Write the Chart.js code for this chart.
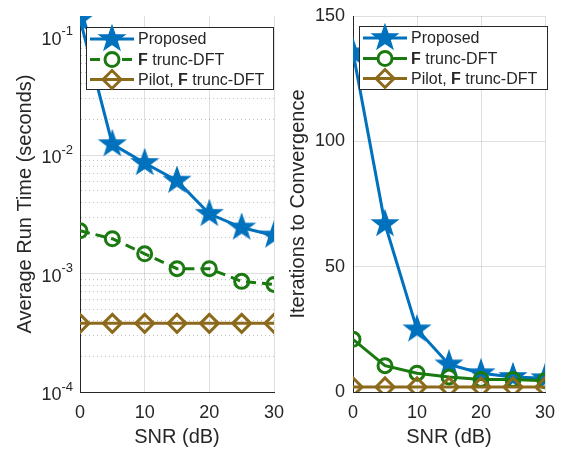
<!DOCTYPE html>
<html>
<head>
<meta charset="utf-8">
<script src="https://cdn.jsdelivr.net/npm/chart.js@4/dist/chart.umd.min.js"></script>
<style>
  html, body { margin: 0; padding: 0; background: #fff; }
  #wrap { position: relative; width: 561px; height: 451px; }
  #left { position: absolute; left: 0; top: 0; }
  #right { position: absolute; left: 280px; top: 0; }
</style>
</head>
<body>
<div id="wrap">
  <canvas id="left" width="290" height="451"></canvas>
  <canvas id="right" width="281" height="451"></canvas>
</div>
<script>
// data
const snr = [0, 5, 10, 15, 20, 25, 30];
const runProposed = [0.141, 0.0124, 0.0086, 0.0061, 0.0032, 0.00245, 0.0021];
const runTrunc = [0.0023, 0.00197, 0.00147, 0.0011, 0.0011, 0.00086, 0.00081];
const runPilot = [0.00038, 0.00038, 0.00038, 0.00038, 0.00038, 0.00038, 0.00038];
const iterProposed = [135.5, 67, 25, 11, 7.5, 6, 5.5];
const iterTrunc = [21, 10.5, 7.5, 6, 5, 5, 4.5];
const iterPilot = [2, 2, 2, 2, 2, 2, 2];

const snrTicks = [0, 10, 20, 30];
const runTicks = [1e-4, 1e-3, 1e-2, 1e-1];
const runExp = ['-4', '-3', '-2', '-1'];
const iterTicks = [0, 50, 100, 150];
const legendLabels = ['Proposed', 'F trunc-DFT', 'Pilot, F trunc-DFT'];

const BLUE = '#0072BD', GREEN = '#1A7A10', BROWN = '#8C6A1C';
const TXT = '#262626';
const FONT = '"Liberation Sans", Arial, Helvetica, sans-serif';

// filled pentagram marker
function makeStar(r, color) {
    const c = document.createElement('canvas');
    const s = Math.ceil(r * 2 + 4);
    c.width = s; c.height = s;
    const g = c.getContext('2d');
    const cx = s / 2, cy = s / 2;
    g.beginPath();
    for (let i = 0; i < 10; i++) {
        const rad = i % 2 === 0 ? r : r * 0.4;
        const a = -Math.PI / 2 + i * Math.PI / 5;
        const x = cx + rad * Math.cos(a), y = cy + rad * Math.sin(a);
        if (i === 0) g.moveTo(x, y); else g.lineTo(x, y);
    }
    g.closePath();
    g.fillStyle = color;
    g.fill();
    g.lineWidth = 1.5;
    g.strokeStyle = color;
    g.stroke();
    return c;
}
const starImg = makeStar(13, BLUE);

function pts(ys) {
    return snr.map((x, i) => ({ x: x, y: ys[i] }));
}

function makeDatasets(a, b, c, dashTrunc) {
    return [
        { data: pts(a), borderColor: BLUE, borderWidth: 3, pointStyle: starImg, pointRadius: 13, order: 2 },
        { data: pts(b), borderColor: GREEN, borderWidth: 3, borderDash: dashTrunc ? [10, 6] : [],
          pointStyle: 'circle', pointRadius: 7, pointBorderWidth: 3, pointBorderColor: GREEN,
          pointBackgroundColor: 'rgba(0,0,0,0)', order: 1 },
        { data: pts(c), borderColor: BROWN, borderWidth: 3, pointStyle: 'rectRot', pointRadius: 9,
          pointBorderWidth: 3, pointBorderColor: BROWN, pointBackgroundColor: 'rgba(0,0,0,0)', order: 0 }
    ];
}

// legend drawn inside the plot, like the MATLAB one
function legendPlugin(box, dashTrunc) {
    return {
        id: 'insideLegend',
        afterDatasetsDraw(chart) {
            const ctx = chart.ctx;
            ctx.save();
            ctx.fillStyle = '#fff';
            ctx.fillRect(box.x, box.y, box.w, box.h);
            ctx.strokeStyle = TXT;
            ctx.lineWidth = 1;
            ctx.strokeRect(box.x + 0.5, box.y + 0.5, box.w, box.h);
            const colors = [BLUE, GREEN, BROWN];
            const rows = [box.y + 12, box.y + 32.5, box.y + 52.5];
            const x0 = box.x + 4, x1 = box.x + 48, xm = (x0 + x1) / 2;
            rows.forEach((yy, i) => {
                ctx.strokeStyle = colors[i];
                ctx.lineWidth = 3;
                ctx.setLineDash(i === 1 && dashTrunc ? [10, 6] : []);
                ctx.beginPath();
                ctx.moveTo(x0, yy); ctx.lineTo(x1, yy);
                ctx.stroke();
                ctx.setLineDash([]);
                if (i === 0) {
                    ctx.drawImage(starImg, xm - starImg.width / 2, yy - starImg.height / 2);
                } else if (i === 1) {
                    ctx.beginPath();
                    ctx.fillStyle = '#fff';
                    ctx.arc(xm, yy, 7, 0, Math.PI * 2);
                    ctx.fill();
                    ctx.stroke();
                } else {
                    ctx.beginPath();
                    ctx.moveTo(xm, yy - 9); ctx.lineTo(xm + 9, yy); ctx.lineTo(xm, yy + 9); ctx.lineTo(xm - 9, yy);
                    ctx.closePath();
                    ctx.stroke();
                }
                // label, with a bold F
                ctx.fillStyle = TXT;
                ctx.textBaseline = 'middle';
                ctx.textAlign = 'left';
                let tx = x1 + 4;
                const label = legendLabels[i];
                const fIdx = label.indexOf('F ');
                if (fIdx < 0) {
                    ctx.font = '16px ' + FONT;
                    ctx.fillText(label, tx, yy + 1);
                } else {
                    const pre = label.slice(0, fIdx), post = label.slice(fIdx + 1);
                    ctx.font = '16px ' + FONT;
                    ctx.fillText(pre, tx, yy + 1);
                    tx += ctx.measureText(pre).width;
                    ctx.font = 'bold 16px ' + FONT;
                    ctx.fillText('F', tx, yy + 1);
                    tx += ctx.measureText('F').width;
                    ctx.font = '16px ' + FONT;
                    ctx.fillText(post, tx, yy + 1);
                }
            });
            ctx.restore();
        }
    };
}

function titlesPlugin(yTitle, yTitleX) {
    return {
        id: 'axisTitles',
        afterDraw(chart) {
            const ctx = chart.ctx, a = chart.chartArea;
            ctx.save();
            ctx.fillStyle = TXT;
            ctx.font = '20px ' + FONT;
            ctx.textAlign = 'center';
            ctx.textBaseline = 'middle';
            ctx.fillText('SNR (dB)', (a.left + a.right) / 2, 437);
            ctx.translate(yTitleX, (a.top + a.bottom) / 2);
            ctx.rotate(-Math.PI / 2);
            ctx.fillText(yTitle, 0, 0);
            ctx.restore();
        }
    };
}

// 10^n labels for the log axis
const logLabels = {
    id: 'logLabels',
    afterDraw(chart) {
        const ctx = chart.ctx, y = chart.scales.y;
        const xr = chart.chartArea.left - 7;
        ctx.save();
        ctx.fillStyle = TXT;
        ctx.textBaseline = 'middle';
        ctx.textAlign = 'right';
        runTicks.forEach((v, i) => {
            const py = y.getPixelForValue(v);
            ctx.font = '13px ' + FONT;
            const ew = ctx.measureText(runExp[i]).width;
            ctx.fillText(runExp[i], xr, py - 5);
            ctx.font = '18px ' + FONT;
            ctx.fillText('10', xr - ew, py + 3);
        });
        ctx.restore();
    }
};

const gridMajor = 'rgba(38,38,38,0.15)';
const gridMinor = 'rgba(38,38,38,0.28)';

function xScale() {
    return {
        type: 'linear', min: 0, max: 30,
        afterBuildTicks: s => { s.ticks = snrTicks.map(v => ({ value: v })); },
        afterFit: s => { s.height = 59; s.paddingLeft = 0; s.paddingRight = 0; },
        ticks: { color: TXT, font: { size: 18, family: FONT }, padding: 10, maxRotation: 0 },
        grid: { color: ctx => ctx.tick && ctx.tick.value === 0 ? 'rgba(0,0,0,0)' : gridMajor, drawTicks: false },
        border: { color: TXT, width: 1 }
    };
}

// left panel: run time (log)
new Chart(document.getElementById('left'), {
    type: 'line',
    data: { datasets: makeDatasets(runProposed, runTrunc, runPilot, true) },
    options: {
        responsive: false, animation: false,
        layout: { padding: { top: 14, right: 15, left: 0, bottom: 0 } },
        plugins: { legend: { display: false }, tooltip: { enabled: false } },
        scales: {
            x: xScale(),
            y: {
                type: 'logarithmic', min: 1e-4, max: 0.15,
                afterBuildTicks: s => {
                    const t = [];
                    for (let e = -4; e <= -1; e++) {
                        for (let m = 1; m <= 9; m++) {
                            const v = m * Math.pow(10, e);
                            if (v <= 0.15) t.push({ value: v, major: m === 1 });
                        }
                    }
                    s.ticks = t;
                },
                afterFit: s => { s.width = 80; s.paddingTop = 0; s.paddingBottom = 0; },
                ticks: { display: false },
                grid: {
                    color: ctx => ctx.tick && !ctx.tick.major ? gridMinor : (ctx.tick && ctx.tick.value === 1e-4 ? 'rgba(0,0,0,0)' : gridMajor),
                    drawTicks: false
                },
                border: { color: TXT, width: 1, dash: ctx => ctx.tick && !ctx.tick.major ? [1, 3] : [] }
            }
        }
    },
    plugins: [legendPlugin({ x: 86, y: 27, w: 187, h: 62 }, true), titlesPlugin('Average Run Time (seconds)', 25), logLabels]
});

// right panel: iterations
new Chart(document.getElementById('right'), {
    type: 'line',
    data: { datasets: makeDatasets(iterProposed, iterTrunc, iterPilot, false) },
    options: {
        responsive: false, animation: false,
        layout: { padding: { top: 14, right: 12, left: 0, bottom: 0 } },
        plugins: { legend: { display: false }, tooltip: { enabled: false } },
        scales: {
            x: xScale(),
            y: {
                type: 'linear', min: 0, max: 150,
                afterBuildTicks: s => { s.ticks = iterTicks.map(v => ({ value: v })); },
                afterFit: s => { s.width = 73; s.paddingTop = 0; s.paddingBottom = 0; },
                ticks: { color: TXT, font: { size: 18, family: FONT }, padding: 8 },
                grid: { color: ctx => ctx.tick && ctx.tick.value === 0 ? 'rgba(0,0,0,0)' : gridMajor, drawTicks: false },
                border: { color: TXT, width: 1 }
            }
        }
    },
    plugins: [legendPlugin({ x: 79, y: 26, w: 188, h: 63 }, false), titlesPlugin('Iterations to Convergence', 18)]
});
</script>
</body>
</html>
